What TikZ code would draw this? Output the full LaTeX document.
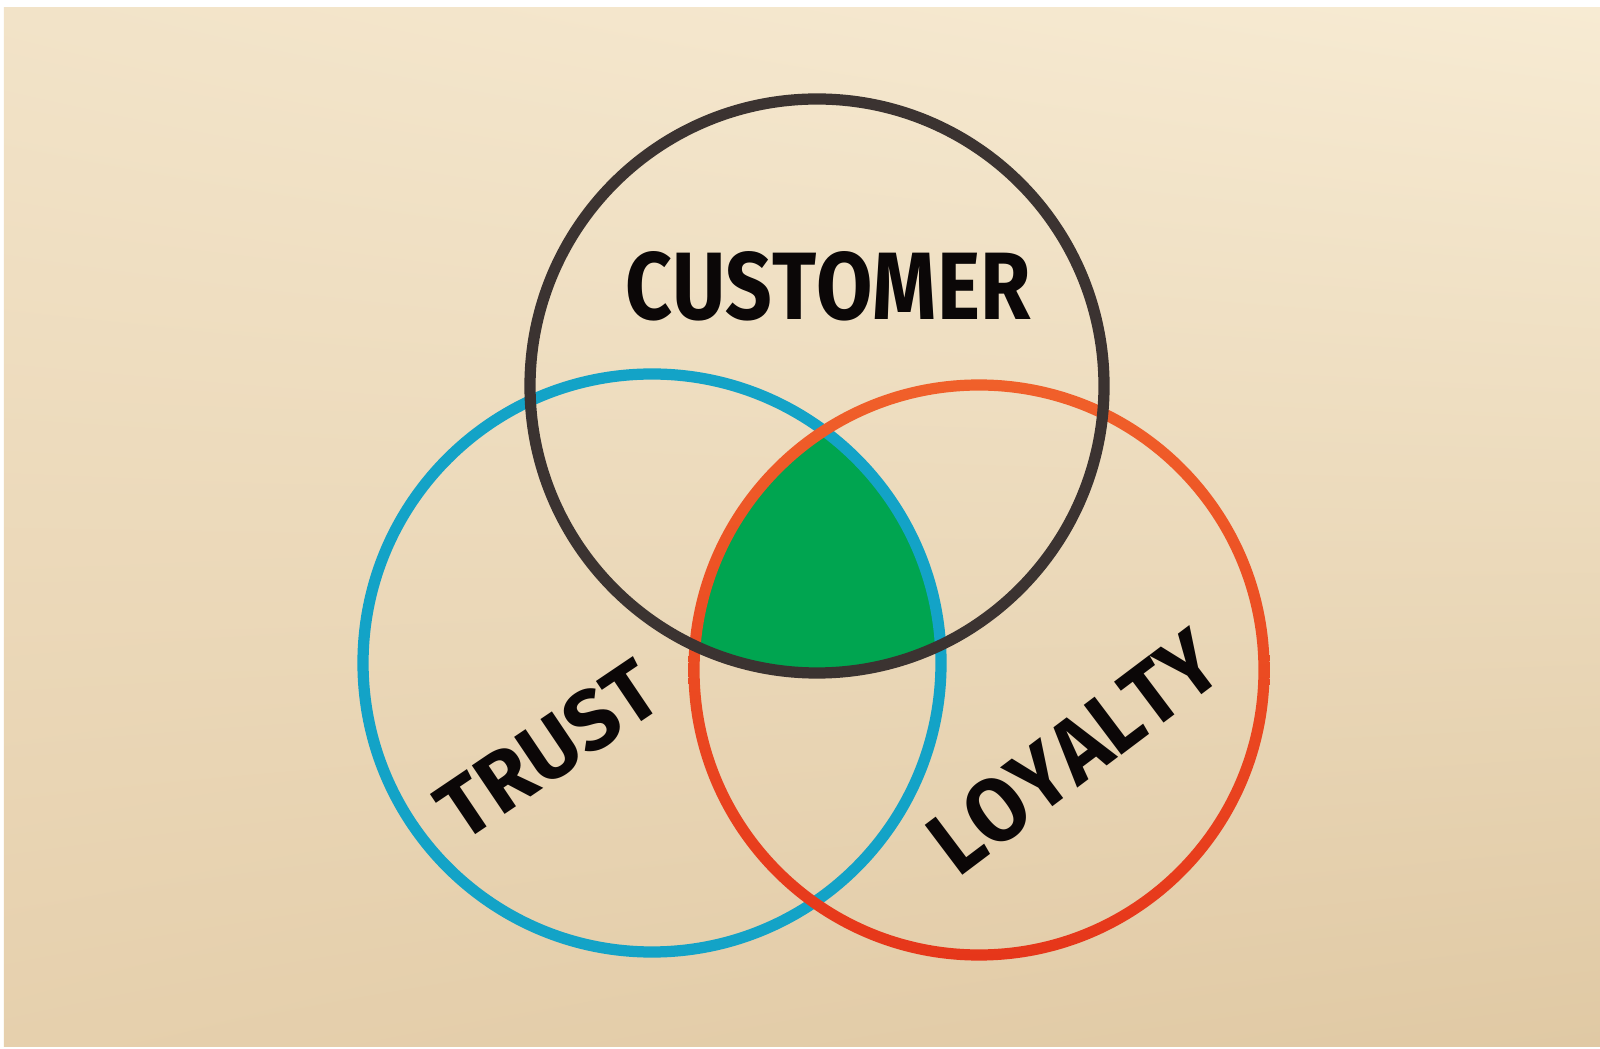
\documentclass[tikz,border=0pt]{standalone}
\usepackage{fontspec}
\usepackage{graphicx}
\usetikzlibrary{shadings}
\newfontfamily\handfont{Fira Sans}[Kerning=Off]
\definecolor{paperA}{HTML}{F2E3C8}
\definecolor{paperB}{HTML}{F7EBD3}
\definecolor{paperC}{HTML}{E6D0AD}
\definecolor{paperD}{HTML}{E0C9A4}
\definecolor{inkgray}{HTML}{3B3331}
\definecolor{inkblue}{HTML}{13A3C7}
\definecolor{redtop}{HTML}{F0602A}
\definecolor{redbot}{HTML}{E6361A}
\definecolor{vgreen}{HTML}{00A550}
\definecolor{inkblack}{HTML}{0B0707}
\tikzstyle{set}=[shape=circle,inner sep=0pt,line width=3.2pt]
\tikzstyle{word}=[inner sep=0pt,text=inkblack,font=\handfont\bfseries]

\begin{document}
\begin{tikzpicture}[]
% paper
  \useasboundingbox (0,0) rectangle (16,10.48);
  \fill[white] (0,0) rectangle (16,10.48);
  \shade[upper left=paperA,upper right=paperB,lower left=paperC,lower right=paperD]
    (0.04,0.02) rectangle (16,10.40);
% centres
  \coordinate (cc) at (8.17,6.62);
  \coordinate (ct) at (6.52,3.85);
  \coordinate (cl) at (9.79,3.78);
% common part
  \begin{scope}
    \clip (cc) circle (2.87);
    \clip (ct) circle (2.89);
    \fill[vgreen] (cl) circle (2.85);
  \end{scope}
% sets
  \node[set,draw=inkblue,minimum size=5.78cm] (trust) at (ct) {};
  \node[set,minimum size=5.70cm] (loyalty) at (cl) {};
  \begin{scope}[even odd rule]
    \clip (cl) circle (2.906) (cl) circle (2.794);
    \shade[top color=redtop,bottom color=redbot]
      (loyalty.south -| loyalty.west) rectangle (loyalty.north -| loyalty.east);
  \end{scope}
  \node[set,draw=inkgray,minimum size=5.74cm] (customer) at (cc) {};
% labels
  \node[word] (customertext) at (8.28,7.62) {\resizebox{4.05cm}{0.68cm}{CUSTOMER}};
  \node[word,rotate=34] (trusttext) at (5.48,2.98) {\resizebox{2.46cm}{0.60cm}{TRUST}};
  \node[word,rotate=37] (loyaltytext) at (10.74,2.96) {\resizebox{3.36cm}{0.64cm}{LOYALTY}};
\end{tikzpicture}
\end{document}
